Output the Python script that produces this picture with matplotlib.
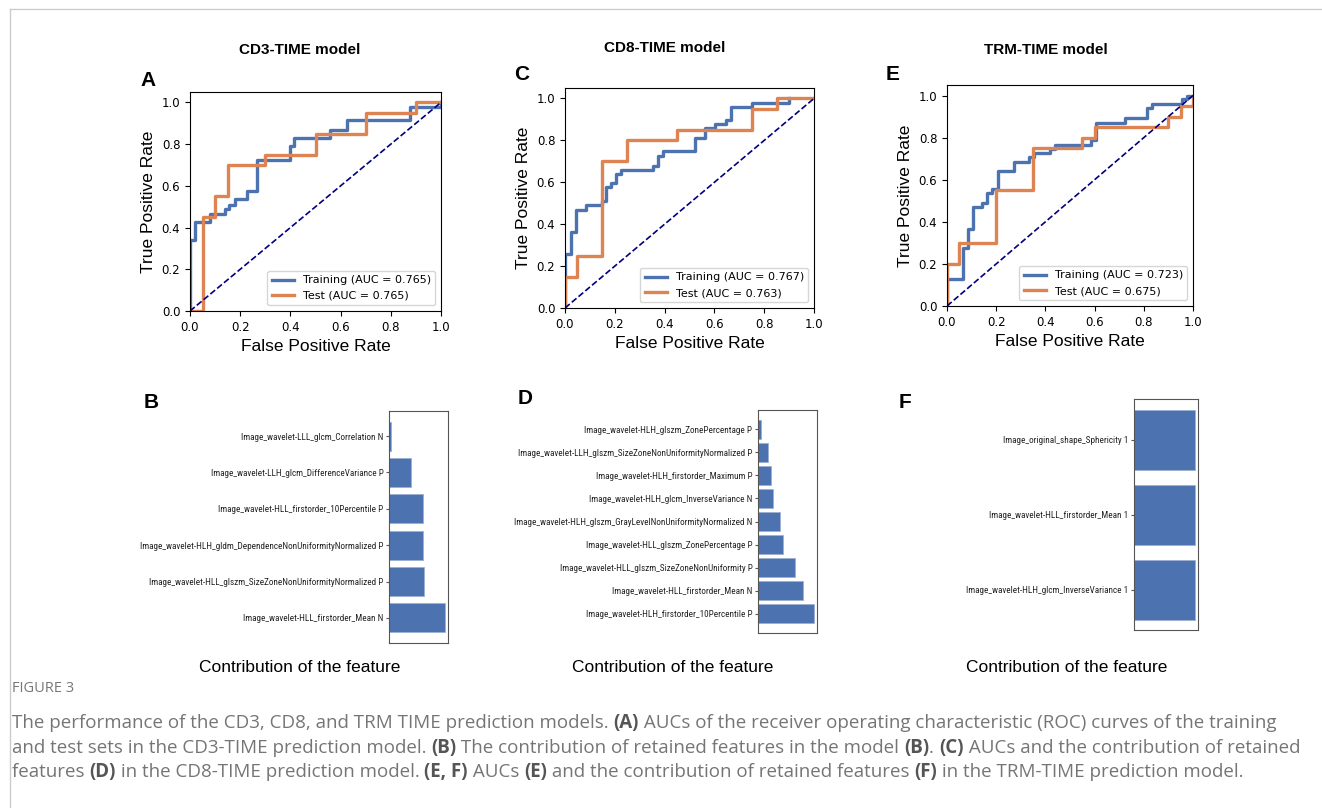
import matplotlib
matplotlib.use("Agg")
import matplotlib.pyplot as plt
from matplotlib.lines import Line2D
from matplotlib import font_manager

W, H = 1322, 808

# ---- ROC data (corner points of the step curves) ----
a_train_fpr = [0, 0, 0.02, 0.02, 0.08, 0.08, 0.14, 0.14, 0.157, 0.157, 0.18, 0.18, 0.227, 0.227,
               0.268, 0.268, 0.397, 0.397, 0.413, 0.413, 0.557, 0.557, 0.624, 0.624, 0.875, 0.875, 1.0, 1.0]
a_train_tpr = [0, 0.34, 0.34, 0.425, 0.425, 0.465, 0.465, 0.49, 0.49, 0.51, 0.51, 0.535, 0.535, 0.575,
               0.575, 0.725, 0.725, 0.79, 0.79, 0.83, 0.83, 0.87, 0.87, 0.915, 0.915, 0.98, 0.98, 1.0]
a_test_fpr = [0, 0.05, 0.05, 0.1, 0.1, 0.15, 0.15, 0.3, 0.3, 0.5, 0.5, 0.7, 0.7, 0.9, 0.9, 1.0]
a_test_tpr = [0, 0, 0.45, 0.45, 0.55, 0.55, 0.70, 0.70, 0.75, 0.75, 0.85, 0.85, 0.95, 0.95, 1.0, 1.0]

c_train_fpr = [0, 0, 0.024, 0.024, 0.043, 0.043, 0.084, 0.084, 0.15, 0.15, 0.166, 0.166, 0.184, 0.184,
               0.203, 0.203, 0.225, 0.225, 0.354, 0.354, 0.374, 0.374, 0.394, 0.394, 0.521, 0.521,
               0.564, 0.564, 0.604, 0.604, 0.648, 0.648, 0.666, 0.666, 0.749, 0.749, 0.9, 0.9]
c_train_tpr = [0, 0.258, 0.258, 0.363, 0.363, 0.47, 0.47, 0.49, 0.49, 0.51, 0.51, 0.576, 0.576, 0.597,
               0.597, 0.64, 0.64, 0.66, 0.66, 0.68, 0.68, 0.725, 0.725, 0.748, 0.748, 0.81, 0.81,
               0.857, 0.857, 0.876, 0.876, 0.897, 0.897, 0.958, 0.958, 0.98, 0.98, 1.0]
c_test_fpr = [0, 0, 0.05, 0.05, 0.15, 0.15, 0.25, 0.25, 0.45, 0.45, 0.75, 0.75, 0.85, 0.85, 1.0]
c_test_tpr = [0, 0.15, 0.15, 0.25, 0.25, 0.70, 0.70, 0.80, 0.80, 0.85, 0.85, 0.95, 0.95, 1.0, 1.0]

e_train_fpr = [0, 0, 0.065, 0.065, 0.084, 0.084, 0.104, 0.104, 0.142, 0.142, 0.163, 0.163, 0.183, 0.183,
               0.207, 0.207, 0.271, 0.271, 0.335, 0.335, 0.355, 0.355, 0.42, 0.42, 0.438, 0.438,
               0.587, 0.587, 0.607, 0.607, 0.725, 0.725, 0.813, 0.813, 0.833, 0.833, 0.955, 0.955,
               0.976, 0.976, 1.0]
e_train_tpr = [0, 0.127, 0.127, 0.277, 0.277, 0.364, 0.364, 0.469, 0.469, 0.49, 0.49, 0.535, 0.535, 0.556,
               0.556, 0.64, 0.64, 0.683, 0.683, 0.706, 0.706, 0.725, 0.725, 0.746, 0.746, 0.765,
               0.765, 0.79, 0.79, 0.868, 0.868, 0.895, 0.895, 0.94, 0.94, 0.96, 0.96, 0.982,
               0.982, 1.0, 1.0]
e_test_fpr = [0, 0, 0.05, 0.05, 0.2, 0.2, 0.35, 0.35, 0.55, 0.55, 0.6, 0.6, 0.9, 0.9, 0.95, 0.95, 1.0, 1.0]
e_test_tpr = [0, 0.2, 0.2, 0.30, 0.30, 0.55, 0.55, 0.75, 0.75, 0.80, 0.80, 0.85, 0.85, 0.90, 0.90, 0.95, 0.95, 1.0]

auc_train = [0.765, 0.767, 0.723]
auc_test = [0.765, 0.763, 0.675]
model_titles = ["CD3-TIME model", "CD8-TIME model", "TRM-TIME model"]

# ---- feature contributions (bottom bar first, relative lengths) ----
b_features = ["Image_wavelet-HLL_firstorder_Mean N",
              "Image_wavelet-HLL_glszm_SizeZoneNonUniformityNormalized P",
              "Image_wavelet-HLH_gldm_DependenceNonUniformityNormalized P",
              "Image_wavelet-HLL_firstorder_10Percentile P",
              "Image_wavelet-LLH_glcm_DifferenceVariance P",
              "Image_wavelet-LLL_glcm_Correlation N"]
b_values = [1.0, 0.63, 0.61, 0.60, 0.40, 0.03]

d_features = ["Image_wavelet-HLH_firstorder_10Percentile P",
              "Image_wavelet-HLL_firstorder_Mean N",
              "Image_wavelet-HLL_glszm_SizeZoneNonUniformity P",
              "Image_wavelet-HLL_glszm_ZonePercentage P",
              "Image_wavelet-HLH_glszm_GrayLevelNonUniformityNormalized N",
              "Image_wavelet-HLH_glcm_InverseVariance N",
              "Image_wavelet-HLH_firstorder_Maximum P",
              "Image_wavelet-LLH_glszm_SizeZoneNonUniformityNormalized P",
              "Image_wavelet-HLH_glszm_ZonePercentage P"]
d_values = [1.0, 0.80, 0.66, 0.45, 0.39, 0.26, 0.24, 0.18, 0.06]

f_features = ["Image_wavelet-HLH_glcm_InverseVariance 1",
              "Image_wavelet-HLL_firstorder_Mean 1",
              "Image_original_shape_Sphericity 1"]
f_values = [1.0, 1.0, 1.0]

BLUE = "#4c72b0"
ORANGE = "#dd8452"
ARIAL = ["Liberation Sans", "DejaVu Sans"]
CAP = ["Open Sans", "DejaVu Sans"]

# narrowest sans available for the long feature names
installed = {f.name for f in font_manager.fontManager.ttflist}
narrow_name = next((n for n in ["Liberation Sans Narrow", "Roboto Condensed", "Open Sans Condensed"]
                    if n in installed), "Liberation Sans")
NARROW = [narrow_name, "DejaVu Sans"]


def box(left, top, right, bottom):
    # pixel box -> figure fraction rect
    return [left / W, 1 - bottom / H, (right - left) / W, (bottom - top) / H]


fig = plt.figure(figsize=(W / 100, H / 100), dpi=100)
renderer = fig.canvas.get_renderer()


def text_width(s, family, size, bold=False):
    # measure with bars so leading/trailing spaces count
    wt = "bold" if bold else "normal"
    t1 = fig.text(0, 0, "|" + s + "|", fontsize=size, family=family, fontweight=wt)
    t2 = fig.text(0, 0, "||", fontsize=size, family=family, fontweight=wt)
    w = t1.get_window_extent(renderer).width - t2.get_window_extent(renderer).width
    t1.remove()
    t2.remove()
    return w


# card border
fig.add_artist(Line2D([10 / W, 1], [1 - 9 / H, 1 - 9 / H], color="#cccccc", lw=1))
fig.add_artist(Line2D([10 / W, 10 / W], [0, 1 - 9 / H], color="#cccccc", lw=1))

roc_boxes = [(190, 92, 441, 311), (565, 88, 814, 308), (947, 85, 1193, 306)]
roc_data = [(a_train_fpr, a_train_tpr, a_test_fpr, a_test_tpr),
            (c_train_fpr, c_train_tpr, c_test_fpr, c_test_tpr),
            (e_train_fpr, e_train_tpr, e_test_fpr, e_test_tpr)]

for i, (bx, d) in enumerate(zip(roc_boxes, roc_data)):
    ax = fig.add_axes(box(*bx))
    ax.plot(d[0], d[1], color=BLUE, lw=2.4, label=f"Training (AUC = {auc_train[i]:.3f})")
    ax.plot(d[2], d[3], color=ORANGE, lw=2.4, label=f"Test (AUC = {auc_test[i]:.3f})")
    ax.plot([0, 1], [0, 1], color="navy", lw=1.2, ls="--")
    ax.set_xlim(0, 1.0)
    ax.set_ylim(0, 1.05)
    ax.tick_params(labelsize=8.5)
    ax.set_xlabel("False Positive Rate", fontsize=12.5, family=ARIAL)
    ax.set_ylabel("True Positive Rate", fontsize=12.5, family=ARIAL)
    ax.legend(loc="lower right", fontsize=8)

title_pos = [(300, 50), (665, 48), (1046, 50)]
for t, (x, y) in zip(model_titles, title_pos):
    fig.text(x / W, 1 - y / H, t, fontsize=11, fontweight="bold", family=ARIAL,
             ha="center", va="center")

letters = [("A", 148, 80), ("C", 522, 75), ("E", 893, 75),
           ("B", 151, 403), ("D", 525, 398), ("F", 905, 402)]
for s, x, y in letters:
    fig.text(x / W, 1 - y / H, s, fontsize=15, fontweight="bold", family=ARIAL,
             ha="center", va="center")

# size the feature names so the longest is a little over the reference width,
# which keeps them readable
longest = "Image_wavelet-HLH_gldm_DependenceNonUniformityNormalized P"
label_size = 10 * 240 / text_width(longest, NARROW, 10)

bar_boxes = [(389, 411, 448, 643), (758, 410, 817, 633), (1134, 399, 1198, 630)]
bar_sets = [(b_features, b_values), (d_features, d_values), (f_features, f_values)]
for bx, (feats, vals) in zip(bar_boxes, bar_sets):
    ax = fig.add_axes(box(*bx))
    ax.barh(range(len(vals)), vals, color=BLUE, edgecolor="#9fb0d2", linewidth=0.6)
    ax.set_yticks(range(len(vals)))
    ax.set_yticklabels(feats, fontsize=label_size, family=NARROW, color="#222222")
    ax.tick_params(axis="y", length=2.5, pad=1.5, color="#555555")
    ax.set_xticks([])
    for sp in ax.spines.values():
        sp.set_color("#555555")

for x in [300, 673, 1067]:
    fig.text(x / W, 1 - 667 / H, "Contribution of the feature", fontsize=12.5, family=ARIAL,
             ha="center", va="center")

# ---- caption ----
fig.text(12 / W, 1 - 688 / H, "FIGURE 3", fontsize=10.5, family=CAP, color="#777777",
         ha="left", va="center")

caption_lines = [
    [("The performance of the CD3, CD8, and TRM TIME prediction models. ", False), ("(A)", True),
     (" AUCs of the receiver operating characteristic (ROC) curves of the training", False)],
    [("and test sets in the CD3-TIME prediction model. ", False), ("(B)", True),
     (" The contribution of retained features in the model ", False), ("(B)", True), (". ", False),
     ("(C)", True), (" AUCs and the contribution of retained", False)],
    [("features ", False), ("(D)", True), (" in the CD8-TIME prediction model. ", False),
     ("(E, F)", True), (" AUCs ", False), ("(E)", True),
     (" and the contribution of retained features ", False), ("(F)", True),
     (" in the TRM-TIME prediction model.", False)],
]

cap_size = 13.5
for line, y in zip(caption_lines, [723, 748, 772]):
    x = 12
    for s, bold in line:
        fig.text(x / W, 1 - y / H, s, fontsize=cap_size, family=CAP,
                 fontweight="bold" if bold else "normal",
                 color="#555555" if bold else "#757575", ha="left", va="center")
        x += text_width(s, CAP, cap_size, bold)

fig.savefig("out.png", dpi=100)
